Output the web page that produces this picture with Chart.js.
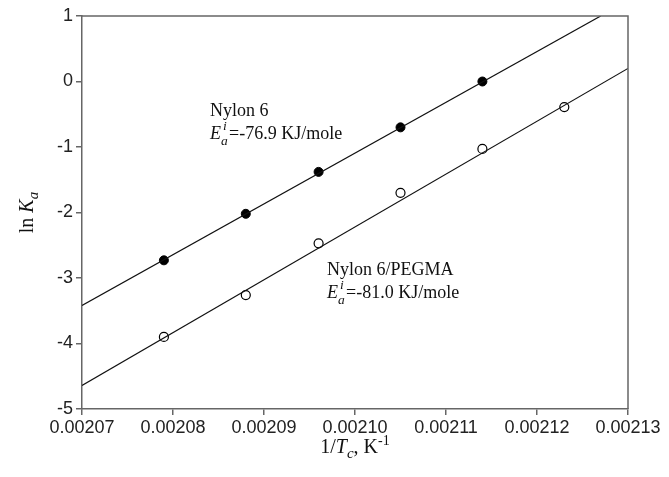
<!DOCTYPE html>
<html>
<head>
<meta charset="utf-8">
<script src="https://cdn.jsdelivr.net/npm/chart.js@4.4.0/dist/chart.umd.min.js"></script>
<style>
  html, body { margin: 0; padding: 0; background: #fff; }
  #wrap { width: 669px; height: 477px; }
</style>
</head>
<body>
<div id="wrap"><canvas id="myChart" width="669" height="477"></canvas></div>
<script>
// values
const invT = [0.002079, 0.002088, 0.002096, 0.002105, 0.002114, 0.002123];
const nylon6 = [-2.73, -2.02, -1.38, -0.70, 0.0];
const nylonPegma = [-3.90, -3.26, -2.47, -1.70, -1.03, -0.39];
// fitted lines, end points read where they leave the frame
const fitNylon6X = [0.00207, 0.002127];
const fitNylon6Y = [-3.42, 1.0];
const fitPegmaX = [0.00207, 0.00213];
const fitPegmaY = [-4.64, 0.2];
const xTicks = [0.00207, 0.00208, 0.00209, 0.00210, 0.00211, 0.00212, 0.00213];
const yTicks = [-5, -4, -3, -2, -1, 0, 1];

const toPts = (xs, ys) => ys.map((y, i) => ({x: xs[i], y: y}));

const serif = '"Liberation Serif", "Times New Roman", serif';
const sans = '"Liberation Sans", Arial, sans-serif';

// draws a line of mixed text pieces: [text, italic, shift, scale]
function richText(ctx, parts, x, y, size) {
  let cx = x;
  parts.forEach((p) => {
    const fs = size * (p[3] || 1);
    ctx.font = (p[1] ? 'italic ' : '') + fs + 'px ' + serif;
    ctx.fillText(p[0], cx, y + (p[2] || 0));
    cx += ctx.measureText(p[0]).width;
  });
  return cx - x;
}
function richWidth(ctx, parts, size) {
  let w = 0;
  parts.forEach((p) => {
    ctx.font = (p[1] ? 'italic ' : '') + size * (p[3] || 1) + 'px ' + serif;
    w += ctx.measureText(p[0]).width;
  });
  return w;
}

const decor = {
  id: 'decor',
  afterDraw(chart) {
    const ctx = chart.ctx;
    const a = chart.chartArea;
    ctx.save();
    // top and right frame
    ctx.strokeStyle = '#666';
    ctx.lineWidth = 1.5;
    ctx.beginPath();
    ctx.moveTo(a.left, a.top);
    ctx.lineTo(a.right, a.top);
    ctx.lineTo(a.right, a.bottom);
    ctx.stroke();

    ctx.fillStyle = '#111';
    ctx.textBaseline = 'alphabetic';
    // annotations
    richText(ctx, [['Nylon 6']], 210, 116, 18);
    richText(ctx, [['E', true], ['a', true, 6, 0.75]], 210, 139, 18);
    richText(ctx, [['i', true, -9, 0.75]], 223, 139, 18);
    richText(ctx, [['=-76.9 KJ/mole']], 229, 139, 18);

    richText(ctx, [['Nylon 6/PEGMA']], 327, 275, 18);
    richText(ctx, [['E', true], ['a', true, 6, 0.75]], 327, 298, 18);
    richText(ctx, [['i', true, -9, 0.75]], 340, 298, 18);
    richText(ctx, [['=-81.0 KJ/mole']], 346, 298, 18);

    // x title
    const xt = [['1/'], ['T', true], ['c', true, 5, 0.75], [', K'], ['-1', false, -8, 0.7]];
    const wx = richWidth(ctx, xt, 20);
    richText(ctx, xt, (a.left + a.right) / 2 - wx / 2, 453, 20);

    // y title
    const yt = [['ln '], ['K', true], ['a', true, 5, 0.75]];
    const wy = richWidth(ctx, yt, 20);
    ctx.translate(33, (a.top + a.bottom) / 2);
    ctx.rotate(-Math.PI / 2);
    richText(ctx, yt, -wy / 2, 0, 20);
    ctx.restore();
  }
};

const ctx = document.getElementById('myChart');

new Chart(ctx, {
  type: 'scatter',
  data: {
    datasets: [
      {
        label: 'Nylon 6 fit',
        type: 'line',
        data: toPts(fitNylon6X, fitNylon6Y),
        borderColor: '#111',
        borderWidth: 1.2,
        pointRadius: 0,
        fill: false
      },
      {
        label: 'Nylon 6/PEGMA fit',
        type: 'line',
        data: toPts(fitPegmaX, fitPegmaY),
        borderColor: '#111',
        borderWidth: 1.2,
        pointRadius: 0,
        fill: false
      },
      {
        label: 'Nylon 6',
        data: toPts(invT, nylon6),
        pointRadius: 4.5,
        pointBackgroundColor: '#000',
        pointBorderColor: '#000',
        pointBorderWidth: 1
      },
      {
        label: 'Nylon 6/PEGMA',
        data: toPts(invT, nylonPegma),
        pointRadius: 4.5,
        pointBackgroundColor: '#fff',
        pointBorderColor: '#000',
        pointBorderWidth: 1.2
      }
    ]
  },
  options: {
    responsive: false,
    animation: false,
    layout: { padding: { left: 0, right: 41, top: 16, bottom: 0 } },
    plugins: {
      legend: { display: false },
      tooltip: { enabled: false }
    },
    scales: {
      x: {
        type: 'linear',
        min: 0.00207,
        max: 0.00213,
        afterBuildTicks: (s) => { s.ticks = xTicks.map((v) => ({value: v})); },
        afterFit: (s) => { s.height = 68; },
        border: { color: '#666', width: 1.5 },
        grid: { drawOnChartArea: false, color: '#666', tickLength: 6, lineWidth: 1.5 },
        ticks: {
          color: '#222',
          padding: 2,
          maxRotation: 0,
          font: { family: sans, size: 18 },
          callback: (v) => v.toFixed(5)
        }
      },
      y: {
        min: -5,
        max: 1,
        afterBuildTicks: (s) => { s.ticks = yTicks.map((v) => ({value: v})); },
        afterFit: (s) => { s.width = 82; },
        border: { color: '#666', width: 1.5 },
        grid: { drawOnChartArea: false, color: '#666', tickLength: 6, lineWidth: 1.5 },
        ticks: {
          color: '#222',
          padding: 3,
          font: { family: sans, size: 18 }
        }
      }
    }
  },
  plugins: [decor]
});
</script>
</body>
</html>
